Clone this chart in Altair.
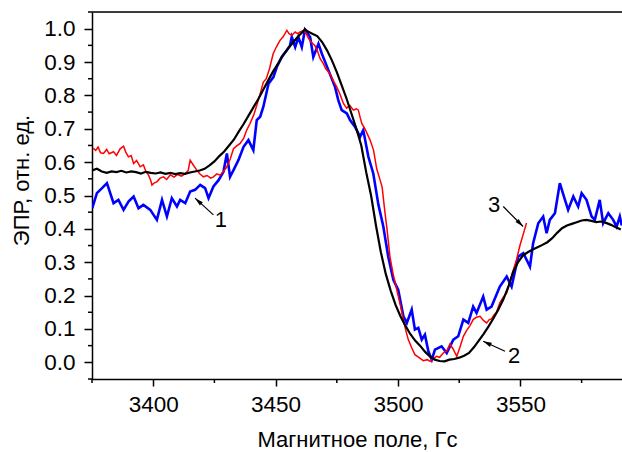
import altair as alt
import pandas as pd

# ---- data ----
black_x = [3375, 3377, 3379, 3381, 3383, 3385, 3387, 3389, 3391, 3393, 3395, 3397, 3399, 3401, 3403,
           3405, 3407, 3409, 3411, 3413, 3415, 3417, 3419, 3421, 3423, 3425, 3427, 3429, 3431, 3433,
           3435, 3437, 3439, 3441, 3443, 3445, 3447, 3449, 3451, 3453, 3455, 3457, 3459, 3461, 3462,
           3463, 3465, 3467, 3469, 3471, 3473, 3475, 3477, 3479, 3481, 3483, 3485, 3487, 3489, 3491,
           3493, 3495, 3497, 3499, 3501, 3503, 3505, 3507, 3509, 3511, 3513, 3515, 3517, 3519, 3521,
           3523, 3525, 3527, 3529, 3531, 3533, 3535, 3537, 3539, 3541, 3543, 3545, 3547, 3549, 3551,
           3553, 3555, 3557, 3559, 3561, 3563, 3565, 3567, 3569, 3571, 3573, 3575, 3577, 3579, 3581,
           3583, 3585, 3587, 3589, 3591]
black_y = [0.575, 0.580, 0.572, 0.568, 0.572, 0.570, 0.574, 0.569, 0.572, 0.570, 0.566, 0.571, 0.568, 0.566, 0.569,
           0.565, 0.568, 0.564, 0.567, 0.565, 0.569, 0.572, 0.575, 0.580, 0.590, 0.602, 0.618, 0.632, 0.650, 0.668,
           0.692, 0.715, 0.740, 0.765, 0.790, 0.818, 0.845, 0.872, 0.895, 0.920, 0.940, 0.958, 0.975, 0.990, 0.998,
           0.992, 0.985, 0.978, 0.960, 0.935, 0.905, 0.870, 0.830, 0.790, 0.745, 0.700, 0.650, 0.570, 0.500, 0.410,
           0.330, 0.265, 0.215, 0.172, 0.138, 0.110, 0.085, 0.065, 0.050, 0.032, 0.018, 0.008, 0.004, 0.003, 0.008,
           0.010, 0.014, 0.020, 0.028, 0.045, 0.065, 0.085, 0.108, 0.132, 0.158, 0.188, 0.225, 0.270, 0.300, 0.320,
           0.330, 0.338, 0.345, 0.352, 0.360, 0.372, 0.388, 0.402, 0.410, 0.415, 0.420, 0.425, 0.427, 0.424, 0.420,
           0.422, 0.418, 0.412, 0.405, 0.398]

red_x = [3375.5, 3376.5, 3377.5, 3378.5, 3379.7, 3381, 3382, 3383.8, 3385, 3386.5, 3387.9, 3388.8, 3389.9, 3391,
         3392, 3393.2, 3394.7, 3396, 3397, 3398.1, 3399, 3399.5, 3400.5, 3401.5, 3402.8, 3404.2, 3405.5, 3407,
         3408.5, 3410, 3411.5, 3413, 3414.3, 3415.1, 3416.5, 3417.8, 3419, 3420.5, 3422, 3423.5, 3424.6, 3426,
         3427.3, 3428.7, 3430.1, 3431.5, 3432.8, 3434, 3435.5, 3437, 3438.2, 3439.5, 3441, 3442.3, 3443.5, 3445,
         3446.2, 3447.5, 3449, 3450.3, 3451.8, 3453, 3454.6, 3455.5, 3456.6, 3458, 3459, 3460, 3461.5, 3462.5,
         3463.5, 3464.5, 3466, 3467, 3468.2, 3469.5, 3470.5, 3472.2, 3473.5, 3475, 3476.5, 3477.7, 3479, 3480.3,
         3481.8, 3483, 3483.8, 3484.5, 3485.2, 3486.5, 3488.6, 3490, 3491.3, 3492.7, 3493.5, 3494.7, 3495.5,
         3496.7, 3498, 3499.5, 3501, 3502.2, 3503.2, 3504.2, 3505.5, 3506.9, 3508.5, 3510.3, 3512, 3513.1, 3514.5,
         3515.8, 3517, 3518.5, 3520, 3521.2, 3522.5, 3524, 3525.3, 3526.7, 3528, 3529.4, 3530.7, 3532, 3533.5,
         3535, 3536.2, 3537.3, 3538.2, 3539.2, 3540.2, 3541.6, 3543, 3544.4, 3545.7, 3547.1, 3548.5, 3549.8,
         3551.2, 3552.5]
red_y = [0.642, 0.635, 0.645, 0.628, 0.626, 0.638, 0.625, 0.631, 0.620, 0.640, 0.648, 0.630, 0.616, 0.620,
         0.596, 0.605, 0.586, 0.592, 0.572, 0.561, 0.545, 0.531, 0.538, 0.541, 0.552, 0.556, 0.548, 0.562,
         0.555, 0.563, 0.558, 0.565, 0.575, 0.606, 0.590, 0.576, 0.565, 0.556, 0.560, 0.552, 0.556, 0.565,
         0.561, 0.572, 0.586, 0.610, 0.640, 0.648, 0.656, 0.672, 0.696, 0.715, 0.740, 0.770, 0.800, 0.840,
         0.850, 0.880, 0.925, 0.945, 0.965, 0.975, 0.995, 0.985, 0.980, 0.990, 0.985, 0.990, 0.995, 0.985,
         0.970, 0.960, 0.950, 0.935, 0.910, 0.895, 0.880, 0.865, 0.845, 0.825, 0.800, 0.776, 0.762, 0.770,
         0.756, 0.760, 0.756, 0.735, 0.716, 0.700, 0.666, 0.636, 0.580, 0.546, 0.526, 0.447, 0.400,
         0.317, 0.265, 0.217, 0.170, 0.128, 0.095, 0.068, 0.045, 0.023, 0.015, 0.005, 0.008, 0.003, 0.012,
         0.018, 0.015, 0.028, 0.035, 0.055, 0.040, 0.018, 0.045, 0.078, 0.095, 0.110, 0.128, 0.135, 0.138,
         0.125, 0.118, 0.128, 0.130, 0.142, 0.150, 0.178, 0.195, 0.207, 0.240, 0.277, 0.310, 0.350,
         0.385, 0.418]

blue_x = [3375.1, 3377.0, 3379.1, 3381.1, 3383.8, 3385.8, 3387.9, 3389.9, 3392.0, 3394.0, 3396.0, 3398.8,
          3401.5, 3403.6, 3405.6, 3407.6, 3409.7, 3411.0, 3413.1, 3415.1, 3417.1, 3419.2, 3421.2, 3422.6,
          3424.6, 3426.7, 3428.7, 3430.1, 3431.4, 3432.8, 3434.8, 3436.9, 3438.9, 3440.9, 3442.3, 3443.7,
          3445.0, 3447.1, 3449.1, 3450.5, 3452.5, 3454.6, 3455.9, 3456.6, 3458.0, 3459.3, 3460.7, 3462.0,
          3464.1, 3465.4, 3467.5, 3468.9, 3471.6, 3474.3, 3475.6, 3477.0, 3479.1, 3480.4, 3482.4, 3484.5,
          3485.8, 3487.9, 3489.9, 3492.0, 3494.0, 3496.0, 3498.1, 3500.1, 3502.2, 3503.6, 3505.6, 3506.9,
          3508.3, 3509.7, 3511.0, 3512.4, 3513.8, 3515.1, 3517.8, 3519.9, 3522.6, 3524.6, 3526.7, 3528.7,
          3530.7, 3532.1, 3534.8, 3536.2, 3538.2, 3541.6, 3544.4, 3546.4, 3549.1, 3551.2, 3553.9, 3555.2,
          3557.3, 3559.3, 3560.7, 3562.0, 3564.1, 3566.1, 3568.2, 3569.5, 3571.6, 3573.6, 3575.0, 3577.0,
          3579.1, 3580.4, 3582.4, 3583.8, 3585.9, 3587.9, 3589.3, 3590.6, 3591.4]
blue_y = [0.462, 0.507, 0.522, 0.537, 0.477, 0.487, 0.457, 0.482, 0.497, 0.462, 0.472, 0.457,
          0.427, 0.487, 0.437, 0.492, 0.467, 0.487, 0.477, 0.512, 0.517, 0.532, 0.522, 0.492,
          0.527, 0.546, 0.571, 0.626, 0.556, 0.576, 0.606, 0.646, 0.666, 0.636, 0.726, 0.736,
          0.766, 0.835, 0.855, 0.885, 0.915, 0.935, 0.950, 0.975, 0.945, 0.975, 0.945, 0.997,
          0.975, 0.915, 0.955, 0.925, 0.875, 0.825, 0.786, 0.756, 0.746, 0.726, 0.706, 0.676,
          0.696, 0.616, 0.566, 0.472, 0.407, 0.317, 0.247, 0.217, 0.138, 0.118, 0.158, 0.098,
          0.103, 0.068, 0.083, 0.033, 0.008, 0.038, 0.048, 0.028, 0.068, 0.078, 0.128, 0.118,
          0.167, 0.148, 0.197, 0.158, 0.167, 0.227, 0.257, 0.227, 0.317, 0.327, 0.287, 0.357,
          0.417, 0.437, 0.387, 0.427, 0.447, 0.537, 0.487, 0.457, 0.497, 0.467, 0.507, 0.487,
          0.437, 0.427, 0.487, 0.417, 0.447, 0.427, 0.407, 0.437, 0.410]

# annotations: labels and arrows (tail -> tip)
label_text = ["1", "2", "3"]
label_x = [3427.6, 3547.4, 3539.3]
label_y = [0.427, 0.018, 0.472]
arrow_x1 = [3424.6, 3543.7, 3543.0]
arrow_y1 = [0.442, 0.033, 0.467]
arrow_x2 = [3417.1, 3534.8, 3551.1]
arrow_y2 = [0.492, 0.063, 0.407]
arrow_angle = [312, 295, 135]

# ticks: major (labelled) and minor
x_major = [3400, 3450, 3500, 3550]
x_minor = [3375, 3425, 3475, 3525, 3575]
y_major = [0.0, 0.1, 0.2, 0.3, 0.4, 0.5, 0.6, 0.7, 0.8, 0.9, 1.0]
y_minor = [-0.05, 0.05, 0.15, 0.25, 0.35, 0.45, 0.55, 0.65, 0.75, 0.85, 0.95, 1.05]

X_DOMAIN = [3375, 3591.5]
Y_DOMAIN = [-0.05, 1.05]
W, H = 530, 367
FONT = "Liberation Sans"

xscale = alt.Scale(domain=X_DOMAIN, nice=False, zero=False)
yscale = alt.Scale(domain=Y_DOMAIN, nice=False, zero=False)

common = dict(labelOverlap=False, labelFlush=False, grid=False,
              labelFontSize=22.5, titleFontSize=22, titleFontWeight="normal",
              labelFont=FONT, titleFont=FONT, labelColor="black", titleColor="black",
              domainColor="black", tickColor="black", domainWidth=1.5, tickWidth=1.5)

xaxis = alt.Axis(values=x_major, format="d", tickSize=7, labelPadding=7,
                 title="Магнитное поле, Гс", titleY=67, titleBaseline="alphabetic", **common)
yaxis = alt.Axis(values=y_major, format=".1f", tickSize=8, labelPadding=9,
                 title="ЭПР, отн. ед.", titleX=-64, titleY=168, titleBaseline="alphabetic",
                 titleAngle=270, titleAlign="center", **common)


def X(field):
    return alt.X(field, type="quantitative", scale=xscale, axis=xaxis)


def Y(field):
    return alt.Y(field, type="quantitative", scale=yscale, axis=yaxis)


def series(xs, ys, color, width):
    df = pd.DataFrame({"x": xs, "y": ys})
    return alt.Chart(df).mark_line(color=color, strokeWidth=width, clip=True).encode(
        x=X("x"), y=Y("y"))


blue = series(blue_x, blue_y, "#0000ff", 2.6)
red = series(red_x, red_y, "#ff0000", 1.5)
black = series(black_x, black_y, "#000000", 2.2)

# minor ticks drawn as short rules just outside the plot area, placed through the scales
xminor = alt.Chart(pd.DataFrame({"v": x_minor})).mark_rule(color="black", strokeWidth=1.5).encode(
    x=X("v"), y=alt.value(H), y2=alt.value(H + 4))
yminor = alt.Chart(pd.DataFrame({"v": y_minor})).mark_rule(color="black", strokeWidth=1.5).encode(
    y=Y("v"), x=alt.value(-4), x2=alt.value(0))

ann = pd.DataFrame({"t": label_text, "x": label_x, "y": label_y,
                    "x1": arrow_x1, "y1": arrow_y1, "x2": arrow_x2, "y2": arrow_y2,
                    "a": arrow_angle})
labels = alt.Chart(ann).mark_text(fontSize=22, font=FONT, color="black",
                                  align="center", baseline="middle").encode(
    x=X("x"), y=Y("y"), text="t:N")
arrows = alt.Chart(ann).mark_rule(color="black", strokeWidth=1.2).encode(
    x=X("x1"), y=Y("y1"), x2="x2:Q", y2="y2:Q")
heads = alt.Chart(ann).mark_point(shape="M0,0L-0.45,1.7L0.45,1.7Z", filled=True,
                                  color="black", opacity=1, size=100).encode(
    x=X("x2"), y=Y("y2"), angle=alt.Angle("a:Q", scale=None))

frame = alt.Chart(pd.DataFrame({"k": [0]})).mark_rule(color="black", strokeWidth=1.5).encode(
    x=alt.value(0), x2=alt.value(W), y=alt.value(0))

chart = alt.layer(blue, red, black, arrows, heads, labels, xminor, yminor, frame).properties(
    width=W, height=H,
    autosize=alt.AutoSizeParams(type="none"),
    padding={"left": 92, "top": 12, "right": 0, "bottom": 73},
).configure_view(stroke=None).configure(background="white")

chart.save("out.html", embed_options={"renderer": "svg", "actions": False})
